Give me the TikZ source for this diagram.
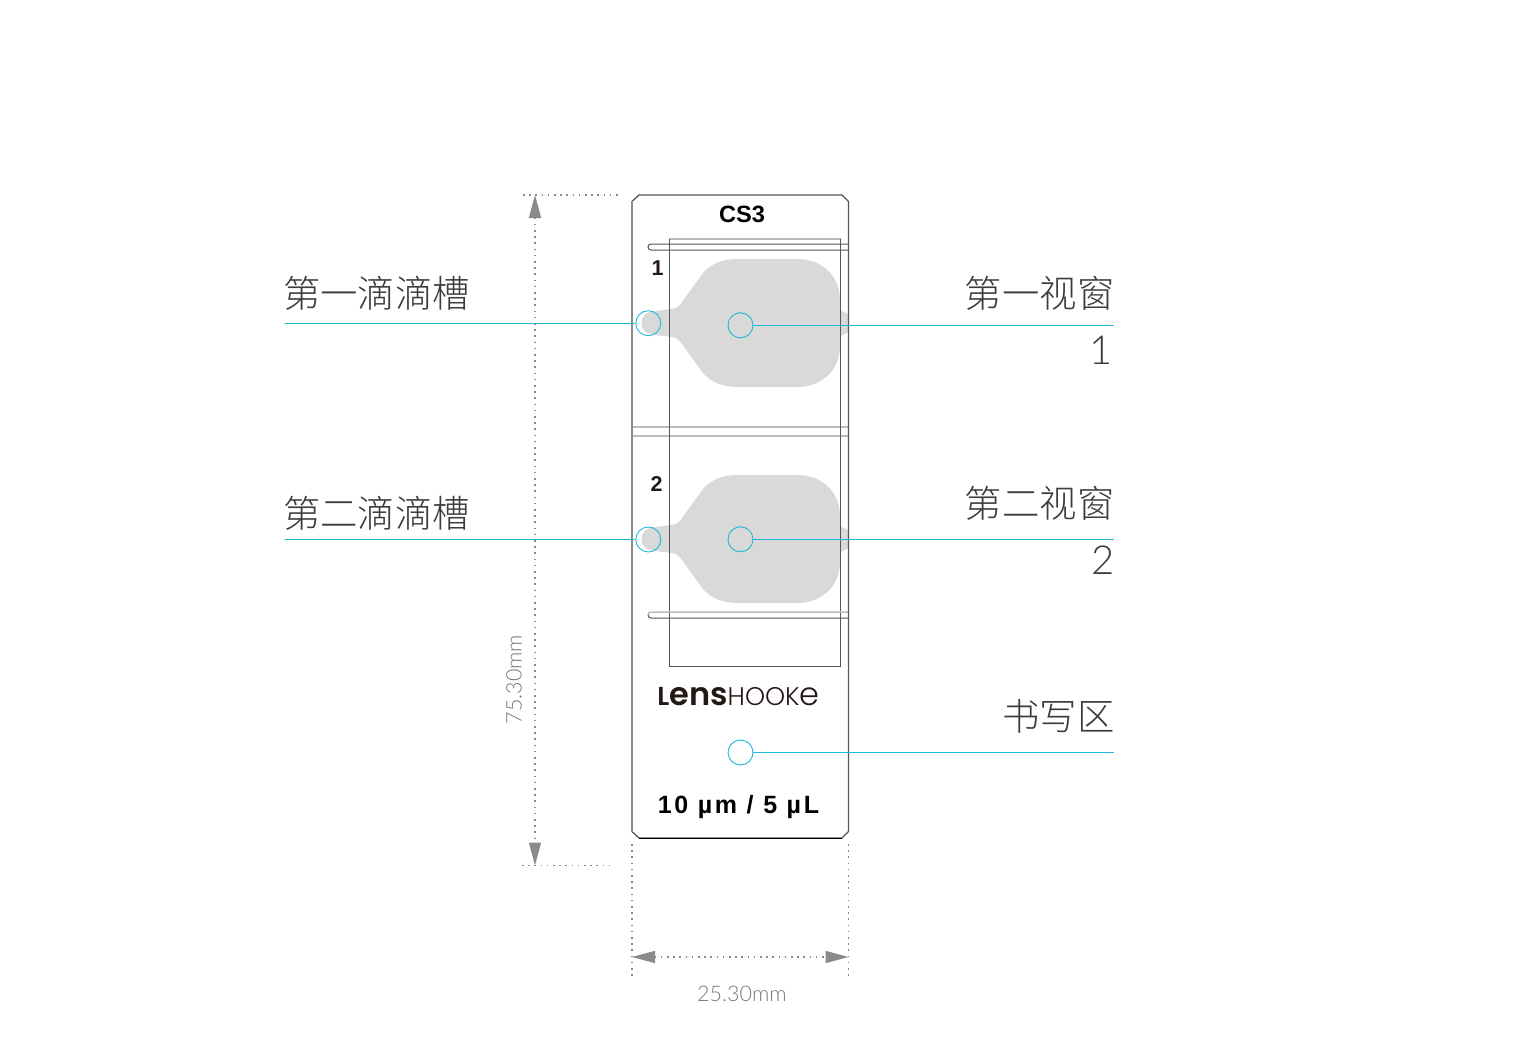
\documentclass[tikz,border=0pt]{standalone}
\usepackage{fontspec}
\usepackage{tikz}
\usetikzlibrary{arrows.meta}
\setmainfont{Liberation Sans}
\newfontfamily\cjk{Noto Sans CJK SC Light}
\newfontfamily\thin{Lato Light}
\newfontfamily\spaced[LetterSpace=10.5]{Liberation Sans}
\newfontfamily\logobold{Poppins SemiBold}
\newfontfamily\logolight{Poppins Light}
\definecolor{spot}{HTML}{1FB8D6}
\definecolor{dim}{HTML}{8A8A8A}
\definecolor{dimink}{HTML}{777777}
\definecolor{chamber}{HTML}{D9D9D9}
\definecolor{edge}{HTML}{555555}
\definecolor{band}{HTML}{BBBBBB}
\definecolor{caption}{HTML}{3C3C3C}
\definecolor{logoink}{HTML}{231815}

\begin{document}
\begin{tikzpicture}[x=1pt, y=-1pt, line width=1pt]
                  \tikzstyle{spotmark}=[circle, draw=spot, line width=0.9pt, minimum size=25pt, inner sep=0pt]
                  \tikzstyle{leader}=[draw=spot, line width=0.9pt]
                  \tikzstyle{title}=[inner sep=0pt, text=caption, font=\cjk\fontsize{37.4}{37.4}\selectfont]
                  \tikzstyle{digit}=[inner sep=0pt, text=caption, font=\thin\fontsize{40}{40}\selectfont]
                  \tikzstyle{dimtext}=[inner sep=0pt, text=dimink, font=\thin\fontsize{21.5}{21.5}\selectfont]
                  \tikzstyle{cellnum}=[inner sep=0pt, text=logoink, font=\bfseries\fontsize{21.5}{21.5}\selectfont]
                  \tikzstyle{dots}=[draw=dim, line width=1.5pt, dash pattern=on 1.5pt off 4.7pt]
                  \tikzstyle{dimline}=[dots, {Triangle[length=23pt, width=12pt, fill=dim]}-{Triangle[length=23pt, width=12pt, fill=dim]}]

                  \useasboundingbox (0,0) rectangle (1535,1054);

                  % chambers
                  \foreach \dy in {0,216} {
                    \begin{scope}[yshift=-\dy pt]
                      \fill[chamber] (641.5,323) .. controls (641.5,316) and (646,312) .. (655,311)
                        -- (672,309) .. controls (677,308.5) and (679,306) .. (682,302)
                        -- (703,273) .. controls (711,264) and (722,259) .. (737,259)
                        -- (797,259) .. controls (822,259) and (840,276) .. (840,300)
                        -- (840,346) .. controls (840,370) and (822,387) .. (797,387)
                        -- (737,387) .. controls (722,387) and (711,382) .. (703,373)
                        -- (682,344) .. controls (679,340) and (677,337.5) .. (672,337)
                        -- (655,335) .. controls (646,334) and (641.5,330) .. (641.5,323) -- cycle;
                      \fill[chamber] (839,310) -- (848.5,314) -- (848.5,332) -- (839,337) -- cycle;
                    \end{scope}
                  }

                  % card
                  \draw[band, line width=1.5pt] (632,427) -- ++(216.5,0) (632,436) -- ++(216.5,0);
                  \draw[band, line width=1.5pt] (669,239) -- (840.5,239);
                  \draw[edge] (669,239) -- (669,666) -- (840.5,666) -- (840.5,239);
                  \draw[edge] (848.5,244) -- (651,244) arc[start angle=90, end angle=270, radius=3pt] -- (848.5,250);
                  \draw[band, line width=1.5pt] (848.5,612) -- (651,612) arc[start angle=90, end angle=180, radius=3pt];
                  \draw[edge] (648,615) arc[start angle=180, end angle=270, radius=3pt] -- (848.5,618);
                  \draw[edge, line width=1.3pt] (639,195) -- (842,195) -- (848.5,201.5) -- (848.5,831.5) -- (842,838)
                    -- (639,838) -- (632,831.5) -- (632,201.5) -- cycle;
                  \draw[dim, line width=1.6pt] (632,201.5) -- (632,831.5);
                  \draw[black] (639,838) -- (842,838);

                  % printed text
                  \node[inner sep=0pt, font=\bfseries\fontsize{23.6}{23.6}\selectfont] (name) at (742,214) {CS3};
                  \node[cellnum] (one) at (657.5,268) {1};
                  \node[cellnum] (two) at (656.5,484) {2};
                  \node[inner sep=0pt, text=logoink] (logo) at (738.5,696.5)
                    {{\logobold\fontsize{26}{26}\selectfont L\fontsize{32}{32}\selectfont ens}{\logolight\fontsize{25.5}{25.5}\selectfont HOOK\fontsize{32}{32}\selectfont e}};
                  \node[inner sep=0pt, font=\spaced\bfseries\fontsize{25}{25}\selectfont] (vol) at (738.5,807) {10 µm / 5 µL};

                  % spots and leaders
                  \node[spotmark] (wellA) at (648.3,323.2) {};
                  \node[spotmark] (wellB) at (648.3,539.5) {};
                  \node[spotmark] (viewA) at (740.5,325.3) {};
                  \node[spotmark] (viewB) at (740.5,539.3) {};
                  \node[spotmark] (write) at (740.5,752.5) {};
                  \coordinate (endWellA) at (285,323.2);
                  \coordinate (endWellB) at (285,539.5);
                  \coordinate (endViewA) at (1113.5,325.3);
                  \coordinate (endViewB) at (1113.5,539.3);
                  \coordinate (endWrite) at (1113.5,752.5);
                  \draw[leader] (endWellA) -- (wellA.west);
                  \draw[leader] (endWellB) -- (wellB.west);
                  \draw[leader] (viewA.east) -- (endViewA);
                  \draw[leader] (viewB.east) -- (endViewB);
                  \draw[leader] (write.east) -- (endWrite);

                  \node[title, anchor=west] (lblWellA) at (282.5,293) {第一滴滴槽};
                  \node[title, anchor=west] (lblWellB) at (282.5,513) {第二滴滴槽};
                  \node[title, anchor=east] (lblViewA) at (1115,293) {第一视窗};
                  \node[title, anchor=east] (lblViewB) at (1115,503) {第二视窗};
                  \node[title, anchor=east] (lblWrite) at (1115,716) {书写区};
                  \node[digit, anchor=east] (numA) at (1113,350) {1};
                  \node[digit, anchor=east] (numB) at (1115,560) {2};

                  % dimensions
                  \coordinate (topA) at (523,195);   \coordinate (topB) at (619,195);
                  \coordinate (botA) at (522,865.5); \coordinate (botB) at (612,865.5);
                  \coordinate (lftA) at (632,844);   \coordinate (lftB) at (632,978);
                  \coordinate (rgtA) at (848.5,844); \coordinate (rgtB) at (848.5,978);
                  \coordinate (upTip) at (535,195);  \coordinate (dnTip) at (535,865.5);
                  \coordinate (lfTip) at (632,957);  \coordinate (rgTip) at (848.5,957);
                  \draw[dots] (topA) -- (topB);
                  \draw[dots] (botA) -- (botB);
                  \draw[dots] (lftA) -- (lftB);
                  \draw[dots] (rgtA) -- (rgtB);
                  \draw[dimline] (upTip) -- (dnTip);
                  \draw[dimline] (lfTip) -- (rgTip);
                  \node[dimtext, rotate=90] (height) at (514,679.5) {75.30mm};
                  \node[dimtext] (width) at (742,994) {25.30mm};
                \end{tikzpicture}
\end{document}
